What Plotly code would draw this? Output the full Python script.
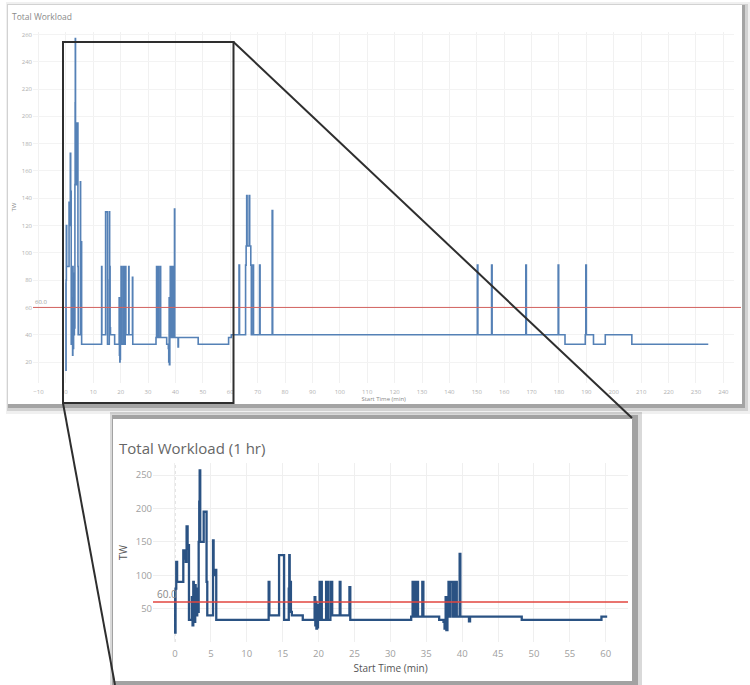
import plotly.graph_objects as go

W, H = 750, 685

# ---------------- data ----------------
# first hour (step series: value holds until next time)
t_first_hour = [0.00, 0.03, 0.08, 0.18, 0.30, 1.16, 1.25, 1.32, 1.50, 1.62, 1.76, 1.84, 1.95,
                2.35, 2.45, 2.55, 2.62, 2.70, 2.76, 2.82, 2.88, 2.95, 3.02, 3.10, 3.18,
                3.30, 3.38, 3.44, 3.52, 3.62, 4.00, 4.40, 4.50,
                5.30, 5.38, 5.45, 5.52, 5.62, 5.75,
                13.05, 13.15, 14.50, 15.20, 15.85, 15.92, 15.98, 16.08, 16.15, 16.28,
                17.80, 19.45, 19.55, 19.62, 19.70, 19.78, 19.85, 19.92, 20.00,
                20.15, 20.45, 21.05, 21.30, 21.65, 21.90, 22.95, 23.05, 24.30, 24.42,
                32.90, 33.10, 33.25, 33.35, 33.50, 33.65, 33.85, 34.45, 34.60,
                36.80, 37.40, 37.55, 37.70, 37.80, 37.95, 38.10, 38.25, 38.40, 38.75, 38.85,
                39.00, 39.10, 39.25, 39.35, 39.65, 39.75,
                40.95, 41.10, 48.30, 59.40, 60.20]
tw_first_hour = [78, 14, 80, 120, 90, 137, 125, 137, 120, 173, 140, 145, 33,
                 67, 25, 90, 40, 80, 30, 85, 45, 80, 40, 75, 45,
                 150, 210, 257, 150, 150, 195, 90, 40,
                 152, 100, 108, 100, 108, 33,
                 90, 40, 130, 33, 80, 130, 60, 90, 45, 40,
                 33, 67, 25, 60, 20, 55, 22, 40, 33,
                 90, 33, 90, 33, 90, 40, 90, 40, 82, 33,
                 38, 90, 38, 90, 38, 90, 38, 90, 38,
                 33, 30, 20, 67, 18, 38, 90, 38, 90, 38, 90,
                 38, 90, 38, 38, 132, 38,
                 31, 38, 33, 38, 38]

# remainder of the session (main chart only)
t_rest = [60.40, 63.20, 63.40, 65.60, 65.80, 66.00, 66.15, 66.90, 67.10, 67.50, 67.70,
          68.30, 68.50, 70.70, 70.90, 75.30, 75.50, 150.20, 150.40, 155.40, 155.60,
          167.90, 168.10, 179.70, 179.90, 182.20, 189.60, 189.80, 190.00, 192.60,
          196.90, 206.60, 234.50]
tw_rest = [40, 91, 40, 91, 105, 142, 105, 142, 105, 91, 40,
           91, 40, 91, 40, 131, 40, 91, 40, 91, 40,
           91, 40, 91, 40, 33, 40, 91, 40, 33,
           40, 33, 33]

threshold = 60.0

main_x_ticks = list(range(-10, 241, 10))
main_y_ticks = list(range(20, 261, 20))
inset_x_ticks = list(range(0, 61, 5))
inset_y_ticks = list(range(50, 251, 50))

# ---------------- helpers ----------------
def px(x):
    return x / W

def py(y):
    return 1 - y / H

t_main = t_first_hour + t_rest
tw_main = tw_first_hour + tw_rest

fig = go.Figure()
fig.add_trace(go.Scatter(x=t_main, y=tw_main, mode="lines",
                         line=dict(shape="hv", color="#5581b6", width=1.6),
                         xaxis="x", yaxis="y", showlegend=False, hoverinfo="skip"))
fig.add_trace(go.Scatter(x=t_first_hour, y=tw_first_hour, mode="lines",
                         line=dict(shape="hv", color="#2a5283", width=2.3),
                         xaxis="x2", yaxis="y2", showlegend=False, hoverinfo="skip"))

shapes = []
# main panel shadow + panel
shapes.append(dict(type="rect", xref="paper", yref="paper", layer="below",
                   x0=px(6), x1=px(750), y0=py(414), y1=py(2),
                   fillcolor="rgba(0,0,0,0.06)", line=dict(width=0)))
shapes.append(dict(type="rect", xref="paper", yref="paper", layer="below",
                   x0=px(7), x1=px(748), y0=py(411), y1=py(4),
                   fillcolor="rgba(0,0,0,0.12)", line=dict(width=0)))
shapes.append(dict(type="rect", xref="paper", yref="paper", layer="below",
                   x0=px(8), x1=px(745), y0=py(408), y1=py(5),
                   fillcolor="rgba(0,0,0,0.22)", line=dict(width=0)))
shapes.append(dict(type="rect", xref="paper", yref="paper", layer="below",
                   x0=px(8), x1=px(742), y0=py(404), y1=py(5),
                   fillcolor="white", line=dict(width=0)))
# inset panel shadow + panel
shapes.append(dict(type="rect", xref="paper", yref="paper", layer="below",
                   x0=px(110), x1=px(642), y0=py(685), y1=py(412),
                   fillcolor="rgba(0,0,0,0.15)", line=dict(width=0)))
shapes.append(dict(type="rect", xref="paper", yref="paper", layer="below",
                   x0=px(112), x1=px(638), y0=py(685), y1=py(415),
                   fillcolor="rgba(0,0,0,0.25)", line=dict(width=0)))
shapes.append(dict(type="rect", xref="paper", yref="paper", layer="below",
                   x0=px(113), x1=px(632), y0=py(681), y1=py(419),
                   fillcolor="white", line=dict(width=0)))
# dotted zero line in inset
shapes.append(dict(type="line", xref="x2", yref="paper", layer="below",
                   x0=0, x1=0, y0=py(642), y1=py(463),
                   line=dict(color="#c8c8c8", width=1, dash="dot")))
# threshold lines
shapes.append(dict(type="line", xref="paper", yref="y", layer="above",
                   x0=px(33), x1=px(741), y0=threshold, y1=threshold,
                   line=dict(color="#d2625e", width=1)))
shapes.append(dict(type="line", xref="paper", yref="y2", layer="above",
                   x0=px(153), x1=px(628), y0=threshold, y1=threshold,
                   line=dict(color="#e2463f", width=1.5)))
# zoom rectangle and connector lines
shapes.append(dict(type="rect", xref="paper", yref="paper", layer="above",
                   x0=px(63), x1=px(233.5), y0=py(403), y1=py(42),
                   line=dict(color="#2e2e2e", width=2)))
shapes.append(dict(type="line", xref="paper", yref="paper", layer="above",
                   x0=px(233.5), y0=py(42), x1=px(632), y1=py(418),
                   line=dict(color="#2e2e2e", width=2)))
shapes.append(dict(type="line", xref="paper", yref="paper", layer="above",
                   x0=px(63), y0=py(403), x1=px(115), y1=py(685),
                   line=dict(color="#2e2e2e", width=2)))

annotations = [
    dict(text="Total Workload", xref="paper", yref="paper", x=px(10), y=py(16),
         xanchor="left", yanchor="middle", showarrow=False,
         font=dict(size=8.5, color="#8a8a8a", family="Open Sans")),
    dict(text="Total Workload (1 hr)", xref="paper", yref="paper", x=px(117), y=py(448),
         xanchor="left", yanchor="middle", showarrow=False,
         font=dict(size=15, color="#666666", family="Open Sans")),
    dict(text="60.0", xref="paper", yref="y", x=px(33), y=threshold, yshift=5,
         xanchor="left", yanchor="middle", showarrow=False,
         font=dict(size=6, color="#999999", family="Open Sans")),
    dict(text="60.0", xref="paper", yref="y2", x=px(155), y=threshold, yshift=8,
         xanchor="left", yanchor="middle", showarrow=False,
         font=dict(size=10, color="#888888", family="Open Sans")),
]

fig.update_layout(
    width=W, height=H, margin=dict(l=0, r=0, t=0, b=0),
    paper_bgcolor="white", plot_bgcolor="rgba(0,0,0,0)",
    font=dict(family="Open Sans"),
    shapes=shapes, annotations=annotations,
    xaxis=dict(domain=[px(33), px(734.3)], range=[-12, 244], anchor="y",
               tickvals=main_x_ticks, showgrid=True, gridcolor="#f1f1f1", gridwidth=1,
               zeroline=False, showline=False, ticks="", ticklabelstandoff=4,
               tickfont=dict(size=6, color="#b0b0b0"),
               title=dict(text="Start Time (min)", font=dict(size=6, color="#888"), standoff=2)),
    yaxis=dict(domain=[py(382.5), py(31.7)], range=[5, 262], anchor="x",
               tickvals=main_y_ticks, showgrid=True, gridcolor="#f3f3f3", gridwidth=1,
               zeroline=False, showline=False, ticks="",
               tickfont=dict(size=6, color="#b0b0b0"),
               title=dict(text="TW", font=dict(size=6, color="#888"), standoff=4)),
    xaxis2=dict(domain=[px(153), px(628)], range=[-3.06, 63.1], anchor="y2",
                tickvals=inset_x_ticks, showgrid=True, gridcolor="#efefef", gridwidth=1,
                zeroline=False, showline=False, ticks="", ticklabelstandoff=4,
                tickfont=dict(size=9.5, color="#a0a0a0"),
                title=dict(text="Start Time (min)", font=dict(size=10, color="#555"), standoff=6)),
    yaxis2=dict(domain=[py(642), py(463)], range=[0, 268], anchor="x2",
                tickvals=inset_y_ticks, showgrid=True, gridcolor="#efefef", gridwidth=1,
                zeroline=False, showline=False, ticks="",
                tickfont=dict(size=9.5, color="#a0a0a0"),
                title=dict(text="TW", font=dict(size=10, color="#555"), standoff=6)),
)

fig.write_html("out.html")
